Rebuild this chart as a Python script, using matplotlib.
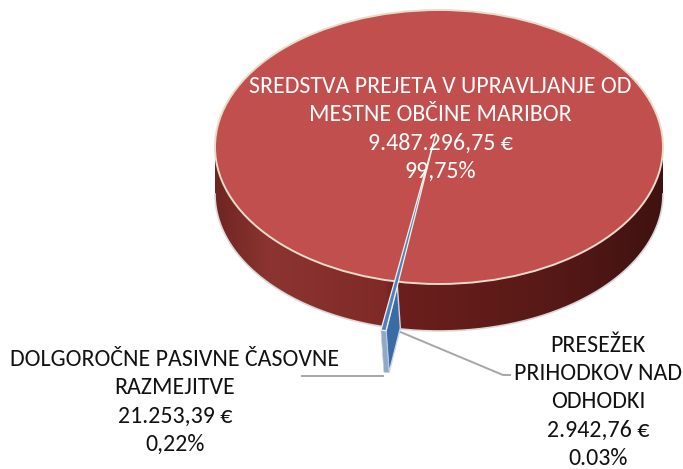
import numpy as np
import matplotlib
matplotlib.use("Agg")
import matplotlib.pyplot as plt
from matplotlib.colors import LinearSegmentedColormap
from matplotlib.patches import Ellipse, Polygon

plt.rcParams['font.family'] = ['Carlito', 'Lato', 'DejaVu Sans']

# chart data
names = ["SREDSTVA PREJETA V UPRAVLJANJE OD\nMESTNE OBČINE MARIBOR",
         "DOLGOROČNE PASIVNE ČASOVNE\nRAZMEJITVE",
         "PRESEŽEK\nPRIHODKOV NAD\nODHODKI"]
amounts = [9487296.75, 21253.39, 2942.76]
amount_labels = ["9.487.296,75 €", "21.253,39 €", "2.942,76 €"]
percent_labels = ["99,75%", "0,22%", "0.03%"]

# pie geometry, in pixels of the 683x469 picture
cx, cy, rx, ry = 439, 147, 224, 137
depth = 47
apex = np.array([436.0, 133.0])
start_deg = 260.3

fig = plt.figure(figsize=(6.83, 4.69), dpi=100)
ax = fig.add_axes([0, 0, 1, 1])
ax.set_xlim(0, 683)
ax.set_ylim(469, 0)
ax.axis("off")

# side wall of the pie, shaded from left to right
t = np.linspace(0, np.pi, 300)
wall_x = cx + rx * np.cos(t)
wall_y = cy + ry * np.sin(t)
outline = np.concatenate([
    np.column_stack([wall_x, wall_y + depth]),
    np.column_stack([wall_x[::-1], wall_y[::-1]]),
])
wall_cmap = LinearSegmentedColormap.from_list("wall", [
    (0.0, "#6f2522"), (0.12, "#8c3431"), (0.38, "#7f2a27"), (0.40, "#6b201d"),
    (0.43, "#6a1f1c"), (0.75, "#571917"), (1.0, "#3f1210"),
])
wall = ax.imshow(np.linspace(0, 1, 256)[None, :], cmap=wall_cmap, aspect="auto",
                 extent=[cx - rx, cx + rx, cy + ry + depth, cy], zorder=1)
wall.set_clip_path(Polygon(outline, transform=ax.transData))
ax.set_xlim(0, 683)
ax.set_ylim(469, 0)
ax.plot(wall_x, wall_y + depth, color="#d9d9d9", lw=1.2, zorder=1.5)

# top of the pie
ax.add_patch(Ellipse((cx, cy), 2 * rx, 2 * ry, fc="#c14f4d", ec="#e8dcc8", lw=1.4, zorder=2))


def ray(angle_deg, r):
    a = np.deg2rad(angle_deg)
    return apex + r * np.array([rx * np.cos(a), -ry * np.sin(a)])


# the two small slices, pulled out towards the viewer
shares = np.array(amounts) / sum(amounts)
end_deg = start_deg + shares[1:].sum() * 360
rim_r, out_r = 1.13, 1.46
shift = np.array([3, 42])

side_face = [ray(end_deg, rim_r), ray(end_deg, out_r), ray(end_deg, out_r) + shift,
             ray(end_deg, rim_r) + shift]
ax.add_patch(Polygon(side_face, fc="#3a6ba5", ec="#c9d6e6", lw=1.0, zorder=3))
ax.add_patch(Polygon([ray(start_deg, out_r), ray(start_deg, out_r) + shift,
                      ray(end_deg, out_r) + shift, ray(end_deg, out_r)],
                     fc="#8fa9c6", ec="#c4cfdb", lw=0.5, zorder=3))

# top of the small slices, from the apex out
ax.add_patch(Polygon([apex, ray(start_deg, out_r), ray(end_deg, out_r)],
                     fc="#4f81bd", ec="#f2f2ea", lw=0.9, zorder=4))

# leader lines
ax.plot([383, 302], [376, 376], color="#a6a6a6", lw=1.4, zorder=1)
ax.plot([398, 503, 510], [331, 375, 375], color="#a6a6a6", lw=1.4, zorder=1)

# labels
font_size = 17.2
gap = 1.43
ax.text(440, 129, f"{names[0]}\n{amount_labels[0]}\n{percent_labels[0]}", color="white",
        ha="center", va="center", fontsize=font_size, linespacing=gap, zorder=5)
ax.text(175, 402, f"{names[1]}\n{amount_labels[1]}\n{percent_labels[1]}", color="#111111",
        ha="center", va="center", fontsize=font_size, linespacing=gap, zorder=5)
ax.text(598, 402, f"{names[2]}\n{amount_labels[2]}\n{percent_labels[2]}", color="#111111",
        ha="center", va="center", fontsize=font_size, linespacing=gap, zorder=5)

fig.savefig("out.png", dpi=100)
